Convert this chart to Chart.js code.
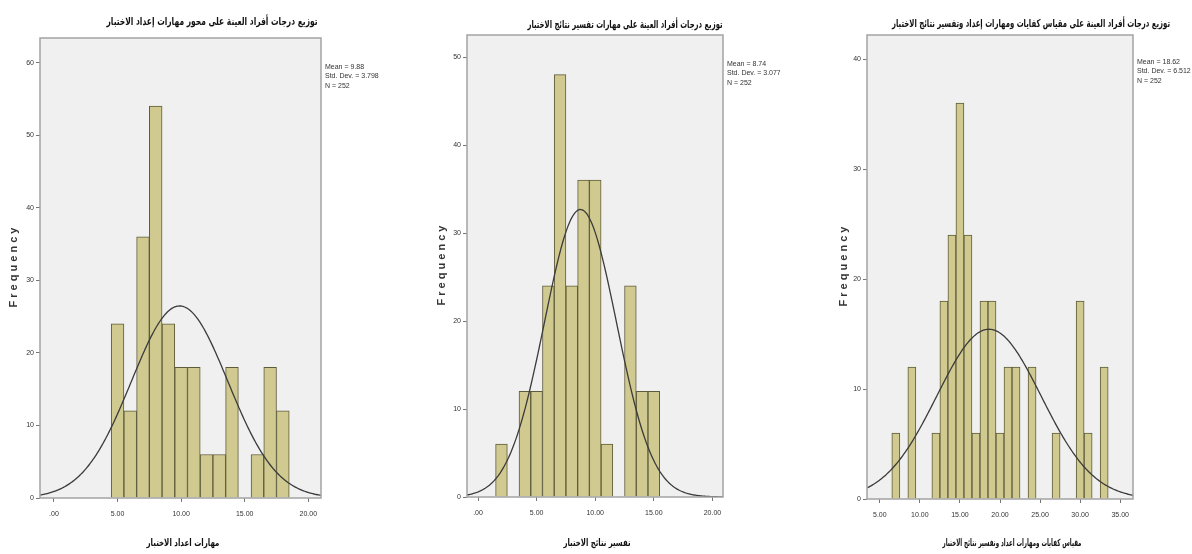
<!DOCTYPE html>
<html>
<head>
<meta charset="utf-8">
<script src="https://cdn.jsdelivr.net/npm/chart.js@4/dist/chart.umd.min.js"></script>
<style>
  body { margin: 0; background: #fff; width: 1192px; height: 554px; overflow: hidden; position: relative; }
  canvas { position: absolute; top: 0; }
</style>
</head>
<body>
<canvas id="c1" width="400" height="554" style="left:0px"></canvas>
<canvas id="c2" width="380" height="554" style="left:400px"></canvas>
<canvas id="c3" width="412" height="554" style="left:780px"></canvas>
<script>
// histogram 1 - مهارات اعداد الاختبار
const bins1 = [5, 6, 7, 8, 9, 10, 11, 12, 13, 14, 16, 17, 18]
const freq1 = [24, 12, 36, 54, 24, 18, 18, 6, 6, 18, 6, 18, 12]
const mean1 = 9.88, sd1 = 3.798, n1 = 252
const xTicks1 = [0, 5, 10, 15, 20]
const xTickLabels1 = ['.00', '5.00', '10.00', '15.00', '20.00']
const yTicks1 = [0, 10, 20, 30, 40, 50, 60]
const title1 = 'توزيع درجات أفراد العينة على محور مهارات إعداد الاختبار'
const xTitle1 = 'مهارات اعداد الاختبار'

// histogram 2 - تفسير نتائج الاختبار
const bins2 = [2, 4, 5, 6, 7, 8, 9, 10, 11, 13, 14, 15]
const freq2 = [6, 12, 12, 24, 48, 24, 36, 36, 6, 24, 12, 12]
const mean2 = 8.74, sd2 = 3.077, n2 = 252
const xTicks2 = [0, 5, 10, 15, 20]
const xTickLabels2 = ['.00', '5.00', '10.00', '15.00', '20.00']
const yTicks2 = [0, 10, 20, 30, 40, 50]
const title2 = 'توزيع درجات أفراد العينة على مهارات تفسير نتائج الاختبار'
const xTitle2 = 'تفسير نتائج الاختبار'

// histogram 3 - المقياس ككل
const bins3 = [7, 9, 12, 13, 14, 15, 16, 17, 18, 19, 20, 21, 22, 24, 27, 30, 31, 33]
const freq3 = [6, 12, 6, 18, 24, 36, 24, 6, 18, 18, 6, 12, 12, 12, 6, 18, 6, 12]
const mean3 = 18.62, sd3 = 6.512, n3 = 252
const xTicks3 = [5, 10, 15, 20, 25, 30, 35]
const xTickLabels3 = ['5.00', '10.00', '15.00', '20.00', '25.00', '30.00', '35.00']
const yTicks3 = [0, 10, 20, 30, 40]
const title3 = 'توزيع درجات أفراد العينة على مقياس كفايات ومهارات إعداد وتفسير نتائج الاختبار'
const xTitle3 = 'مقياس كفايات ومهارات اعداد وتفسير نتائج الاختبار'

// normal curve as SPSS draws it: N * binwidth * pdf(mean, sd)
function normalCurve(mean, sd, n, lo, hi) {
    let pts = []
    for (let i = 0; i <= 240; i++) {
        let x = lo + (hi - lo) * i / 240
        let z = (x - mean) / sd
        pts.push({x: x, y: n * Math.exp(-z * z / 2) / (sd * Math.sqrt(2 * Math.PI))})
    }
    return pts
}

function fitText(ctx, text, x, y, width, maxSize, family) {
    let size = maxSize
    ctx.font = 'bold ' + size + 'px ' + family
    let w = ctx.measureText(text).width
    if (w < width) {
        size = Math.min(13, size * width / w)
        ctx.font = 'bold ' + size + 'px ' + family
    }
    ctx.fillText(text, x, y, width)
}

const spssPlugin = {
    id: 'spss',
    beforeDraw(chart, args, o) {
        const {ctx, chartArea: a} = chart
        ctx.save()
        ctx.fillStyle = '#f0f0f0'
        ctx.fillRect(a.left, a.top, a.right - a.left, a.bottom - a.top)
        ctx.restore()
    },
    afterDraw(chart, args, o) {
        const {ctx, chartArea: a} = chart
        ctx.save()
        ctx.strokeStyle = '#a3a3a3'
        ctx.lineWidth = 1.5
        ctx.strokeRect(a.left, a.top, a.right - a.left, a.bottom - a.top)

        ctx.fillStyle = '#111'
        ctx.textAlign = 'center'
        ctx.textBaseline = 'middle'
        ctx.direction = 'rtl'
        fitText(ctx, o.title, o.titleX, o.titleY, o.titleW, 11, '"DejaVu Sans"')
        fitText(ctx, o.xTitle, o.xTitleX, 543, o.xTitleW, 10, '"DejaVu Sans"')
        ctx.direction = 'ltr'

        // Frequency, rotated
        ctx.save()
        ctx.translate(o.freqX, (a.top + a.bottom) / 2)
        ctx.rotate(-Math.PI / 2)
        ctx.font = 'bold 11px "Liberation Sans"'
        let w0 = ctx.measureText('Frequency').width
        ctx.letterSpacing = ((83 - w0) / 9).toFixed(2) + 'px'
        ctx.fillStyle = '#333'
        ctx.fillText('Frequency', 2, 0)
        ctx.restore()

        ctx.font = '7px "Liberation Sans"'
        ctx.textAlign = 'left'
        ctx.fillStyle = '#333'
        o.stats.forEach((s, i) => ctx.fillText(s, a.right + 4, o.statsY + i * 9.5))
        ctx.restore()
    }
}

function makeChart(id, bins, freq, mean, sd, n, xMin, xMax, yMax, xTicks, xLabels, yTicks, pad, xH, text) {
    let bars = bins.map((b, i) => ({x: b, y: freq[i]}))
    let stats = ['Mean = ' + mean, 'Std. Dev. = ' + sd, 'N = ' + n]
    new Chart(document.getElementById(id), {
        type: 'bar',
        data: {
            datasets: [
                {
                    type: 'line',
                    data: normalCurve(mean, sd, n, xMin, xMax),
                    borderColor: '#3b3b3b',
                    borderWidth: 1.3,
                    pointRadius: 0,
                    fill: false,
                    order: 1
                },
                {
                    data: bars,
                    backgroundColor: '#d0ca90',
                    borderColor: '#5e5b3a',
                    borderWidth: 1,
                    barPercentage: 1,
                    categoryPercentage: 1,
                    order: 2
                }
            ]
        },
        options: {
            responsive: false,
            animation: false,
            layout: {padding: pad},
            plugins: {
                legend: {display: false},
                tooltip: {enabled: false},
                spss: Object.assign({stats: stats}, text)
            },
            scales: {
                x: {
                    type: 'linear', min: xMin, max: xMax, offset: false,
                    afterFit: s => { s.height = xH },
                    afterBuildTicks: s => { s.ticks = xTicks.map(v => ({value: v})) },
                    grid: {drawOnChartArea: false, offset: false, tickLength: 4, color: '#777'},
                    border: {display: false},
                    ticks: {
                        font: {size: 7, family: 'Liberation Sans'}, color: '#333', padding: 8,
                        maxRotation: 0, autoSkip: false,
                        callback: (v, i) => xLabels[i]
                    }
                },
                y: {
                    min: 0, max: yMax,
                    afterFit: s => { s.width = 40 },
                    afterBuildTicks: s => { s.ticks = yTicks.map(v => ({value: v})) },
                    grid: {drawOnChartArea: false, tickLength: 4, color: '#777'},
                    border: {display: false},
                    ticks: {font: {size: 7, family: 'Liberation Sans'}, color: '#333', padding: 2}
                }
            }
        },
        plugins: [spssPlugin]
    })
}

makeChart('c1', bins1, freq1, mean1, sd1, n1, -1.1, 21.0, 63.4, xTicks1, xTickLabels1, yTicks1,
    {left: 0, right: 79, top: 38, bottom: 0}, 56,
    {title: title1, titleX: 212, titleY: 22, titleW: 211, xTitle: xTitle1, xTitleX: 183, xTitleW: 73, freqX: 14, statsY: 67})

makeChart('c2', bins2, freq2, mean2, sd2, n2, -0.94, 20.9, 52.5, xTicks2, xTickLabels2, yTicks2,
    {left: 27, right: 57, top: 35, bottom: 0}, 57,
    {title: title2, titleX: 225, titleY: 25, titleW: 195, xTitle: xTitle2, xTitleX: 197, xTitleW: 67, freqX: 42, statsY: 64})

makeChart('c3', bins3, freq3, mean3, sd3, n3, 3.4, 36.6, 42.2, xTicks3, xTickLabels3, yTicks3,
    {left: 47, right: 59, top: 35, bottom: 0}, 55,
    {title: title3, titleX: 251, titleY: 24, titleW: 278, xTitle: xTitle3, xTitleX: 232, xTitleW: 139, freqX: 64, statsY: 62})
</script>
</body>
</html>
